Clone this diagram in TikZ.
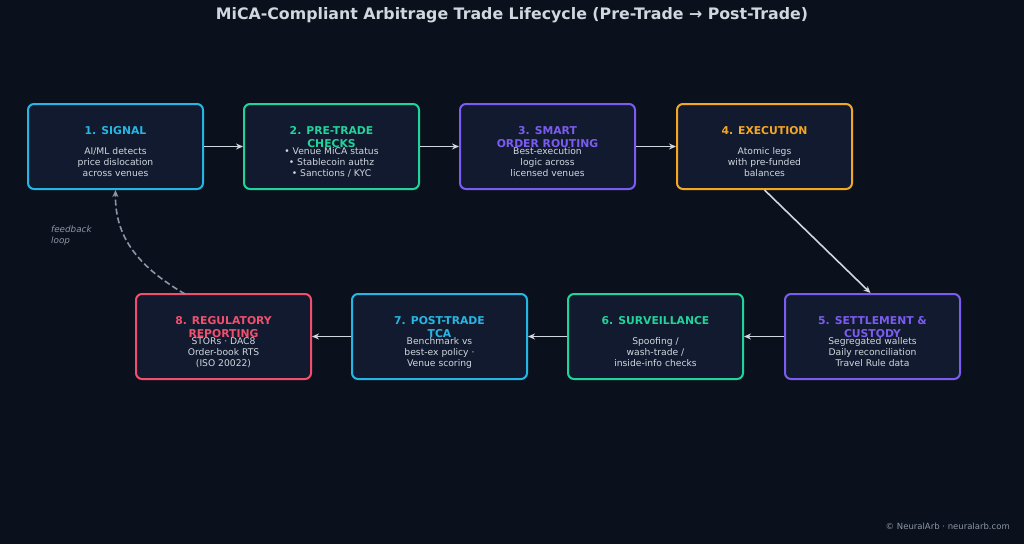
\documentclass[tikz,border=0pt]{standalone}
\usepackage{fontspec}
\setmainfont{DejaVu Sans}
\usetikzlibrary{arrows.meta}
\definecolor{bgcol}{HTML}{0B111C}
\definecolor{boxcol}{HTML}{111A2E}
\definecolor{cyancol}{HTML}{27B6E4}
\definecolor{greencol}{HTML}{22D39A}
\definecolor{purplecol}{HTML}{7B5CF0}
\definecolor{orangecol}{HTML}{F5A623}
\definecolor{redcol}{HTML}{F0506E}
\definecolor{bodycol}{HTML}{D2D7DF}
\definecolor{grycol}{HTML}{8A96A8}
\tikzset{
  stagebox/.style={draw=#1,line width=2pt,fill=boxcol,rounded corners=6pt,
    minimum width=175pt,minimum height=85pt},
  stagetitle/.style={text=#1,font=\bfseries\fontsize{10.8}{13}\selectfont,align=center,
    inner sep=0pt,anchor=north},
  stagebody/.style={text=bodycol,font=\fontsize{9.2}{11}\selectfont,align=center,
    inner sep=0pt,anchor=north},
  flow/.style={-{Stealth[length=7pt,width=6pt]},line width=1.6pt,draw=bodycol}
}
\begin{document}
\begin{tikzpicture}[x=1pt,y=-1pt]
  \fill[bgcol] (0,0) rectangle (1024,544);
  \node[text=bodycol,font=\bfseries\fontsize{15.8}{18}\selectfont] (title) at (512,15)
    {MiCA-Compliant Arbitrage Trade Lifecycle (Pre-Trade → Post-Trade)};
  % stages
  \foreach \n/\x/\y/\c in {s1/115.5/146.5/cyancol,s2/331.5/146.5/greencol,
      s3/547.5/146.5/purplecol,s4/764.5/146.5/orangecol,s5/872.5/336.5/purplecol,
      s6/655.5/336.5/greencol,s7/439.5/336.5/cyancol,s8/223.5/336.5/redcol}
    \node[stagebox=\c] (\n) at (\x,\y) {};
  \node[stagetitle=cyancol] at (115.5,126) {1. SIGNAL};
  \node[stagetitle=greencol] at (331.5,126) {2. PRE-TRADE\\CHECKS};
  \node[stagetitle=purplecol] at (547.5,126) {3. SMART\\ORDER ROUTING};
  \node[stagetitle=orangecol] at (764.5,126) {4. EXECUTION};
  \node[stagetitle=purplecol] at (872.5,316) {5. SETTLEMENT \&\\CUSTODY};
  \node[stagetitle=greencol] at (655.5,316) {6. SURVEILLANCE};
  \node[stagetitle=cyancol] at (439.5,316) {7. POST-TRADE\\TCA};
  \node[stagetitle=redcol] at (223.5,316) {8. REGULATORY\\REPORTING};
  \node[stagebody] at (115.5,147) {AI/ML detects\\price dislocation\\across venues};
  \node[stagebody] at (331.5,147) {• Venue MiCA status\\• Stablecoin authz\\• Sanctions / KYC};
  \node[stagebody] at (547.5,147) {Best-execution\\logic across\\licensed venues};
  \node[stagebody] at (764.5,147) {Atomic legs\\with pre-funded\\balances};
  \node[stagebody] at (872.5,337) {Segregated wallets\\Daily reconciliation\\Travel Rule data};
  \node[stagebody] at (655.5,337) {Spoofing /\\wash-trade /\\inside-info checks};
  \node[stagebody] at (439.5,337) {Benchmark vs\\best-ex policy ·\\Venue scoring};
  \node[stagebody] at (223.5,337) {STORs · DAC8\\Order-book RTS\\(ISO 20022)};
  % connectors
  \draw[flow] (s1) -- (s2);
  \draw[flow] (s2) -- (s3);
  \draw[flow] (s3) -- (s4);
  \draw[flow] (s4.south) -- ([xshift=-2pt]s5.north);
  \draw[flow] (s5) -- (s6);
  \draw[flow] (s6) -- (s7);
  \draw[flow] (s7) -- (s8);
  \coordinate (fb) at (185,294);
  \draw[flow,draw=grycol,dash pattern=on 6pt off 3pt] (fb) .. controls (130,262) and (115,230) .. (s1.south);
  \node[text=grycol,font=\itshape\fontsize{8.8}{11}\selectfont,align=left,anchor=north west,
    inner sep=0pt] (fbl) at (51,226) {feedback\\loop};
  \node[text=grycol,font=\fontsize{8.5}{10}\selectfont,anchor=east,inner sep=0pt] (foot) at (1010,526)
    {© NeuralArb · neuralarb.com};
\end{tikzpicture}
\end{document}
